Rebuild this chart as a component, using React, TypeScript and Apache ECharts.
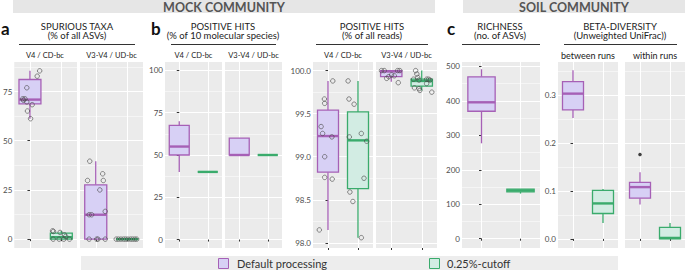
import React, { useEffect, useRef } from "react";
import * as echarts from "echarts";

// ---------------- data ----------------
const legendItems = ["Default processing", "0.25%-cutoff"];
const regionStrips = ["V4 / CD-bc", "V3-V4 / UD-bc"];
const betaStrips = ["between runs", "within runs"];

// boxes: [group, lowerWhisker, q1, median, q3, upperWhisker]
// points: [group, jitter, value]
const spuriousV4Boxes = [
  [0, 61.2, 68.7, 70.9, 81.1, 85.5],
  [1, 0, 0, 1.0, 3.1, 4.2],
];
const spuriousV4Points = [
  [0, 0.31, 85.5], [0, 0.23, 82.8], [0, -0.1, 76.9], [0, -0.23, 71.3], [0, -0.16, 71.3],
  [0, -0.21, 70.6], [0, -0.1, 69.7], [0, 0.07, 68.3], [0, -0.08, 65.1], [0, 0.02, 61.2],
  [1, -0.28, 4.2], [1, -0.25, 3.9], [1, -0.04, 3.4], [1, 0.1, 2.2], [1, 0.14, 1.4],
  [1, -0.26, 0], [1, -0.07, 0], [1, 0.08, 0], [1, 0.26, 0],
];
const spuriousV3Boxes = [
  [0, 0, 0, 12.4, 27.6, 39.6],
  [1, 0, 0, 0, 0, 0],
];
const spuriousV3Points = [
  [0, -0.19, 39.6], [0, -0.26, 29.8], [0, 0.22, 33.2], [0, 0.24, 29.8], [0, 0.13, 25.0],
  [0, 0.3, 14.1], [0, -0.21, 12.4], [0, -0.13, 12.4], [0, -0.21, 0], [0, 0.07, 0],
  [0, 0.3, 0], [0, 0.03, 0],
  [1, -0.35, 0], [1, -0.28, 0], [1, -0.2, 0], [1, -0.12, 0], [1, -0.05, 0],
  [1, 0.02, 0], [1, 0.1, 0], [1, 0.17, 0], [1, 0.24, 0], [1, 0.3, 0],
];
const speciesV4Boxes = [
  [0, 40, 50, 55, 67.5, 70],
  [1, 40, 40, 40, 40, 40],
];
const speciesV3Boxes = [
  [0, 50, 50, 50, 60, 60],
  [1, 50, 50, 50, 50, 50],
];
const readsV4Boxes = [
  [0, 98.15, 98.82, 99.24, 99.54, 99.88],
  [1, 98.06, 98.63, 99.19, 99.52, 99.88],
];
const readsV4Points = [
  [0, 0.16, 99.88], [0, -0.12, 99.67], [0, -0.11, 99.62], [0, -0.23, 99.35], [0, -0.18, 99.27],
  [0, 0.13, 99.23], [0, -0.11, 99.0], [0, -0.11, 98.76], [0, 0.14, 98.74], [0, -0.29, 98.15],
  [1, -0.33, 99.88], [1, -0.3, 99.67], [1, -0.13, 99.61], [1, 0.11, 99.27], [1, -0.29, 99.23],
  [1, 0.29, 99.18], [1, 0.2, 98.75], [1, -0.27, 98.59], [1, -0.17, 98.48], [1, 0.11, 98.06],
];
const readsV3Boxes = [
  [0, 99.87, 99.93, 99.99, 100.0, 100.0],
  [1, 99.77, 99.82, 99.88, 99.9, 100.0],
];
const readsV3Points = [
  [0, -0.32, 100.0], [0, -0.23, 100.0], [0, 0.21, 100.0], [0, 0.28, 100.0], [0, -0.15, 99.91],
  [0, -0.08, 99.93], [0, 0.01, 99.95], [0, 0.1, 99.94], [0, 0.23, 99.86],
  [1, -0.2, 100.0], [1, -0.16, 99.96], [1, -0.13, 99.92], [1, -0.27, 99.9], [1, -0.09, 99.89],
  [1, -0.24, 99.8], [1, -0.09, 99.79], [1, -0.06, 99.77], [1, 0.16, 99.9], [1, 0.27, 99.89],
  [1, 0.33, 99.75], [1, 0.16, 99.85], [1, 0.22, 99.9],
];
const richnessBoxes = [
  [0, 277, 370, 396, 470, 492],
  [1, 131, 136, 140, 144, 144],
];
const betaBetweenBoxes = [
  [0, 0.252, 0.269, 0.303, 0.328, 0.352],
  [1, 0.033, 0.053, 0.074, 0.101, 0.104],
];
const betaWithinBoxes = [
  [0, 0.072, 0.085, 0.108, 0.118, 0.139],
  [1, 0, 0, 0.002, 0.024, 0.033],
];
const betaWithinOutliers = [[0, 0, 0.176]];

const pctTicks = [0, 25, 50, 75];
const pctMinor = [12.5, 37.5, 62.5, 87.5];
const speciesTicks = [0, 25, 50, 75, 100];
const readsTicks = [98, 98.5, 99, 99.5, 100];
const readsMinor = [98.25, 98.75, 99.25, 99.75];
const richnessTicks = [0, 100, 200, 300, 400, 500];
const richnessMinor = [50, 150, 250, 350, 450];
const betaTicks = [0, 0.1, 0.2, 0.3];
const betaMinor = [0.05, 0.15, 0.25, 0.35];

// ---------------- style ----------------
const PURPLE = "#a660b6";
const PURPLE_FILL = "#d7d0f5";
const GREEN = "#3aab6c";
const GREEN_FILL = "#d2ece3";
const FONT = "Lato, 'Open Sans', sans-serif";
const TOP = 62;
const H = 186;
const BOX_W = 0.7;

type Panel = {
  left: number;
  width: number;
  min: number;
  max: number;
  majors: number[];
  minors: number[];
  showY: boolean;
  fmt: (v: number) => string;
  boxes: number[][];
  points?: number[][];
  outliers?: number[][];
  strip?: string;
  stripSize?: number;
};

const int = (v: number) => String(v);
const one = (v: number) => v.toFixed(1);

const panels: Panel[] = [
  { left: 13, width: 64, min: -4.5, max: 90, majors: pctTicks, minors: pctMinor, showY: true, fmt: int, boxes: spuriousV4Boxes, points: spuriousV4Points, strip: regionStrips[0] },
  { left: 80, width: 63, min: -4.5, max: 90, majors: pctTicks, minors: pctMinor, showY: false, fmt: int, boxes: spuriousV3Boxes, points: spuriousV3Points, strip: regionStrips[1] },
  { left: 165, width: 57, min: -5, max: 105, majors: speciesTicks, minors: pctMinor, showY: true, fmt: int, boxes: speciesV4Boxes, strip: regionStrips[0] },
  { left: 225, width: 57, min: -5, max: 105, majors: speciesTicks, minors: pctMinor, showY: false, fmt: int, boxes: speciesV3Boxes, strip: regionStrips[1] },
  { left: 313, width: 60, min: 97.94, max: 100.1, majors: readsTicks, minors: readsMinor, showY: true, fmt: one, boxes: readsV4Boxes, points: readsV4Points, strip: regionStrips[0] },
  { left: 376, width: 61, min: 97.94, max: 100.1, majors: readsTicks, minors: readsMinor, showY: false, fmt: one, boxes: readsV3Boxes, points: readsV3Points, strip: regionStrips[1] },
  { left: 462, width: 78, min: -27, max: 513, majors: richnessTicks, minors: richnessMinor, showY: true, fmt: int, boxes: richnessBoxes },
  { left: 558, width: 60, min: -0.019, max: 0.369, majors: betaTicks, minors: betaMinor, showY: true, fmt: one, boxes: betaBetweenBoxes, strip: betaStrips[0], stripSize: 9 },
  { left: 625, width: 60, min: -0.019, max: 0.369, majors: betaTicks, minors: betaMinor, showY: false, fmt: one, boxes: betaWithinBoxes, outliers: betaWithinOutliers, strip: betaStrips[1], stripSize: 9 },
];

const titles = [
  { lines: ["SPURIOUS TAXA", "(% of all ASVs)"], cx: 77, x1: 19, x2: 135 },
  { lines: ["POSITIVE HITS", "(% of 10 molecular species)"], cx: 223, x1: 171, x2: 276 },
  { lines: ["POSITIVE HITS", "(% of all reads)"], cx: 372, x1: 316, x2: 428 },
  { lines: ["RICHNESS", "(no. of ASVs)"], cx: 500, x1: 462, x2: 540 },
  { lines: ["BETA-DIVERSITY", "(Unweighted UniFrac))"], cx: 620, x1: 564, x2: 677 },
];

function renderBox(params: any, api: any) {
  const g = api.value(0);
  const lo = api.value(1);
  const q1 = api.value(2);
  const med = api.value(3);
  const q3 = api.value(4);
  const hi = api.value(5);
  const cx = api.coord([g, med])[0];
  const w = api.size([BOX_W, 0])[0];
  const y = (v: number) => api.coord([g, v])[1];
  const stroke = g === 0 ? PURPLE : GREEN;
  const fill = g === 0 ? PURPLE_FILL : GREEN_FILL;
  const children: any[] = [];
  if (hi > q3)
    children.push({ type: "line", shape: { x1: cx, y1: y(hi), x2: cx, y2: y(q3) }, style: { stroke, lineWidth: 1.3 } });
  if (lo < q1)
    children.push({ type: "line", shape: { x1: cx, y1: y(q1), x2: cx, y2: y(lo) }, style: { stroke, lineWidth: 1.3 } });
  children.push({
    type: "rect",
    shape: { x: cx - w / 2, y: y(q3), width: w, height: Math.max(y(q1) - y(q3), 0) },
    style: { fill, stroke, lineWidth: 1.3 },
  });
  children.push({
    type: "line",
    shape: { x1: cx - w / 2, y1: y(med), x2: cx + w / 2, y2: y(med) },
    style: { stroke, lineWidth: 2.4 },
  });
  return { type: "group", children };
}

export default function App() {
  const ref = useRef<HTMLDivElement>(null);
  useEffect(() => {
    if (!ref.current) return;
    const chart = echarts.init(ref.current, undefined, { renderer: "svg" });

    const grid = panels.map((p) => ({
      left: p.left, top: TOP, width: p.width, height: H,
      show: true, backgroundColor: "#ebebeb", borderWidth: 0,
    }));
    const xAxis = panels.map((p, i) => ({
      gridIndex: i, type: "value", min: -0.5, max: 1.5,
      axisLine: { show: false },
      axisTick: { show: true, customValues: [0, 1], length: 2, lineStyle: { color: "#333", width: 1 } },
      axisLabel: { show: false },
      splitLine: { show: true, lineStyle: { color: "#ffffff", width: 1.1 } },
    }));
    const yAxis: any[] = [];
    panels.forEach((p, i) => {
      yAxis.push({
        gridIndex: i, type: "value", min: p.min, max: p.max, position: "left",
        axisLine: { show: false },
        axisTick: { show: p.showY, customValues: p.majors, length: 2.5, lineStyle: { color: "#333", width: 1 } },
        axisLabel: { show: p.showY, customValues: p.majors, formatter: p.fmt, fontSize: 8, color: "#4d4d4d", margin: 2, fontFamily: FONT },
        splitLine: { show: true, lineStyle: { color: "#ffffff", width: 1.1 } },
      });
      yAxis.push({
        gridIndex: i, type: "value", min: p.min, max: p.max, position: "left",
        axisLine: { show: false },
        axisTick: { show: false, customValues: p.minors },
        axisLabel: { show: false, customValues: p.minors },
        splitLine: { show: true, lineStyle: { color: "#ffffff", width: 0.5 } },
      });
    });

    const series: any[] = [];
    panels.forEach((p, i) => {
      series.push({
        type: "custom", xAxisIndex: i, yAxisIndex: 2 * i, data: p.boxes,
        encode: { x: 0, y: [1, 2, 3, 4, 5] }, renderItem: renderBox, z: 3, silent: true,
      });
      if (p.points)
        series.push({
          type: "scatter", xAxisIndex: i, yAxisIndex: 2 * i,
          data: p.points.map(([g, j, v]) => [g + j, v]),
          symbol: "circle", symbolSize: 4.5, z: 4, silent: true,
          itemStyle: { color: "rgba(0,0,0,0)", borderColor: "#4a4a4a", borderWidth: 0.8 },
        });
      if (p.outliers)
        series.push({
          type: "scatter", xAxisIndex: i, yAxisIndex: 2 * i,
          data: p.outliers.map(([g, j, v]) => [g + j, v]),
          symbol: "circle", symbolSize: 3.5, z: 4, silent: true,
          itemStyle: { color: "#111" },
        });
    });

    const graphic: any[] = [];
    // community header bands
    graphic.push({ type: "rect", shape: { x: 13, y: 0, width: 422, height: 13 }, style: { fill: "#e6e6e6" } });
    graphic.push({ type: "text", style: { text: "MOCK COMMUNITY", x: 224, y: 7, textAlign: "center", textVerticalAlign: "middle", fill: "#555", font: `bold 12.5px ${FONT}` } });
    graphic.push({ type: "rect", shape: { x: 463, y: 0, width: 222, height: 13 }, style: { fill: "#e6e6e6" } });
    graphic.push({ type: "text", style: { text: "SOIL COMMUNITY", x: 574, y: 7, textAlign: "center", textVerticalAlign: "middle", fill: "#555", font: `bold 12.5px ${FONT}` } });
    // panel letters
    [["a", 1], ["b", 151], ["c", 447]].forEach(([t, x]) => {
      graphic.push({ type: "text", style: { text: t, x, y: 28, textAlign: "left", textVerticalAlign: "middle", fill: "#111", font: `bold 17px ${FONT}` } });
    });
    // titles
    titles.forEach((t) => {
      graphic.push({ type: "text", style: { text: t.lines[0], x: t.cx, y: 26, textAlign: "center", textVerticalAlign: "middle", fill: "#222", font: `9.5px ${FONT}` } });
      graphic.push({ type: "text", style: { text: t.lines[1], x: t.cx, y: 35.5, textAlign: "center", textVerticalAlign: "middle", fill: "#222", font: `9.5px ${FONT}` } });
      graphic.push({ type: "line", shape: { x1: t.x1, y1: 44.5, x2: t.x2, y2: 44.5 }, style: { stroke: "#333", lineWidth: 1 } });
    });
    // strip labels
    panels.forEach((p) => {
      if (!p.strip) return;
      graphic.push({ type: "text", style: { text: p.strip, x: p.left + p.width / 2, y: 55, textAlign: "center", textVerticalAlign: "middle", fill: "#1a1a1a", font: `${p.stripSize || 7.5}px ${FONT}` } });
    });
    // legend
    graphic.push({ type: "rect", shape: { x: 81, y: 256, width: 537, height: 14 }, style: { fill: "#ededed" } });
    graphic.push({ type: "rect", shape: { x: 218.5, y: 258.5, width: 10, height: 10 }, style: { fill: PURPLE_FILL, stroke: PURPLE, lineWidth: 1 } });
    graphic.push({ type: "text", style: { text: legendItems[0], x: 237, y: 263.5, textAlign: "left", textVerticalAlign: "middle", fill: "#333", font: `11px ${FONT}` } });
    graphic.push({ type: "rect", shape: { x: 429.5, y: 258.5, width: 10, height: 10 }, style: { fill: GREEN_FILL, stroke: GREEN, lineWidth: 1 } });
    graphic.push({ type: "text", style: { text: legendItems[1], x: 447, y: 263.5, textAlign: "left", textVerticalAlign: "middle", fill: "#333", font: `11px ${FONT}` } });

    chart.setOption({
      animation: false,
      backgroundColor: "#ffffff",
      grid, xAxis, yAxis, series, graphic,
    });
    return () => chart.dispose();
  }, []);

  return (
    <div
      ref={ref}
      style={{ position: "fixed", left: 0, top: 0, width: 685, height: 270 }}
    />
  );
}
